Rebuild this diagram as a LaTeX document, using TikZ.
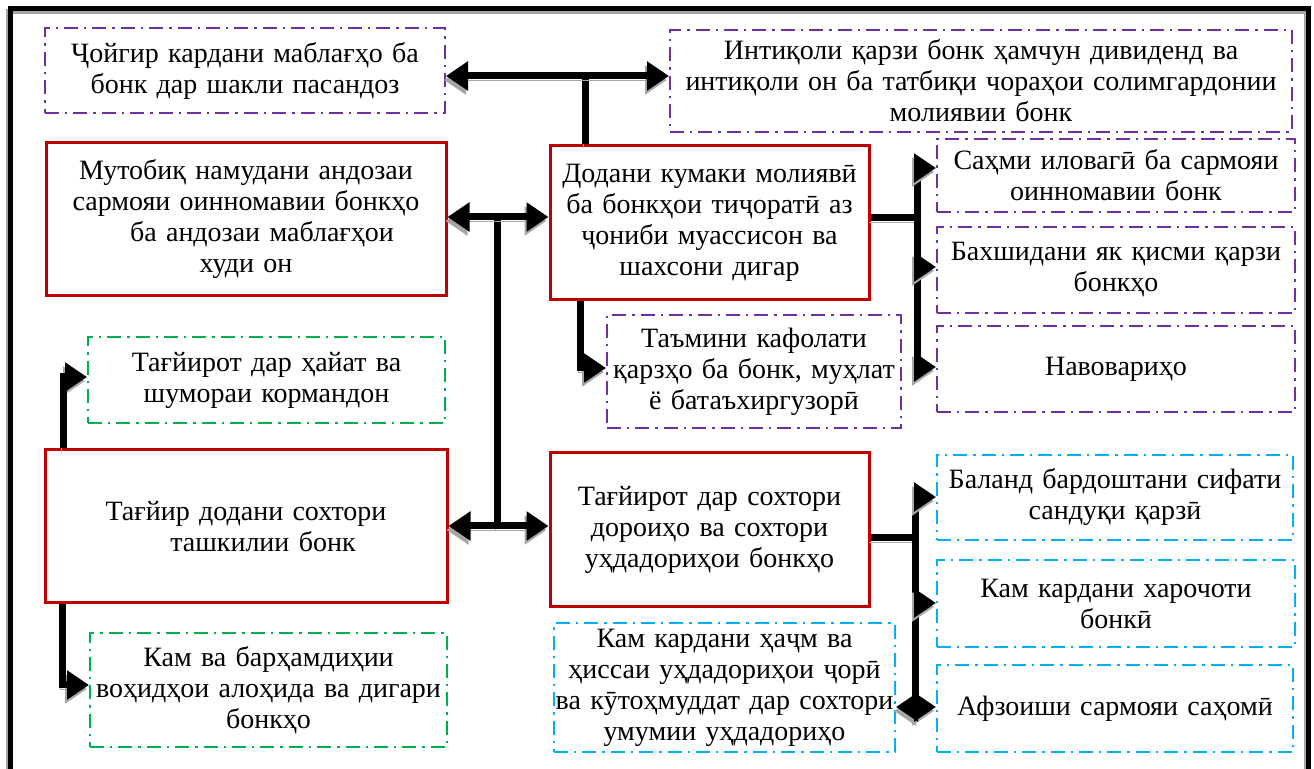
\documentclass[tikz,border=0pt]{standalone}
\usepackage{fontspec}
\setmainfont{Liberation Serif}
\usetikzlibrary{arrows.meta, positioning}

\definecolor{boxred}{HTML}{C00000}
\definecolor{boxviolet}{HTML}{7030A0}
\definecolor{boxgreen}{HTML}{00B050}
\definecolor{boxcyan}{HTML}{00B0F0}

\begin{document}
\begin{tikzpicture}
[x=0.5pt, y=-0.5pt,
  every node/.style={align=center, inner xsep=0pt, inner ysep=0pt,
    font=\fontsize{14}{15.5}\selectfont},
  redbox/.style={draw=boxred, line width=1.5pt},
  dashbox/.style={line width=1pt, dash pattern=on 7pt off 3pt on 1.2pt off 3pt},
  violetbox/.style={dashbox, draw=boxviolet},
  greenbox/.style={dashbox, draw=boxgreen},
  cyanbox/.style={dashbox, draw=boxcyan},
  line/.style={line width=3.5pt,
    preaction={draw=black!35, transform canvas={shift={(-1pt,-2pt)}}}},
  arr/.style={line, -{Triangle[length=11pt,width=14pt]}},
  dbl/.style={line, {Triangle[length=11pt,width=14pt]}-{Triangle[length=11pt,width=14pt]}}]

\clip (0,0) rectangle (1314,769);
\useasboundingbox (0,0) rectangle (1314,769);

% frame
\draw[black!35, line width=2.5pt] (8,790) -- (8,12) -- (1306,12) -- (1306,790);
\draw[line width=2.5pt] (10,790) -- (10,9) -- (1308,9) -- (1308,790);

% top row
\node[violetbox, text width=200pt, minimum height=42.5pt] (jojgir) at (245,70.5)
  {Ҷойгир кардани маблағҳо ба\\ бонк дар шакли пасандоз};
\node[violetbox, text width=311pt, minimum height=51pt] (intiqol) at (981,81)
  {Интиқоли қарзи бонк ҳамчун дивиденд ва\\ интиқоли он ба татбиқи чораҳои солимгардонии\\ молиявии бонк};

% main boxes
\node[redbox, text width=200pt, minimum height=76.5pt] (mutobiq) at (246,219.5)
  {Мутобиқ намудани андозаи\\ сармояи оинномавии бонкҳо\\ \hspace*{16pt}ба андозаи маблағҳои\\ худи он\hspace*{20pt}};
\node[redbox, text width=159.5pt, minimum height=77pt] (dodani) at (709.5,223)
  {Додани кумаки молиявӣ\\ ба бонкҳои тиҷоратӣ аз\\ ҷониби муассисон ва\\ шахсони дигар};
\node[redbox, text width=201pt, minimum height=76.5pt] (tagjir) at (246,526.5)
  {Тағйир додани сохтори\hspace*{20pt}\\ \hspace*{17pt}ташкилии бонк};
\node[redbox, text width=159.5pt, minimum height=77pt] (sokhtor) at (709.5,530)
  {Тағйирот дар сохтори\\ дороиҳо ва сохтори\\ уҳдадориҳои бонкҳо};

% right column
\node[violetbox, text width=179pt, minimum height=36.5pt] (sahmi) at (1116,175.5)
  {Саҳми иловагӣ ба сармояи\\ оинномавии бонк};
\node[violetbox, text width=179pt, minimum height=43pt] (bakhshid) at (1116,270)
  {Бахшидани як қисми қарзи\\ бонкҳо};
\node[violetbox, text width=179pt, minimum height=43pt] (navovari) at (1116,369)
  {Навовариҳо};
\node[cyanbox, text width=178pt, minimum height=42.5pt] (baland) at (1115,497.5)
  {Баланд бардоштани сифати\\ сандуқи қарзӣ};
\node[cyanbox, text width=179pt, minimum height=43.5pt] (kharoj) at (1116,603.5)
  {Кам кардани харочоти\\ бонкӣ};
\node[cyanbox, text width=178pt, minimum height=43.5pt] (afzoish) at (1115,708.5)
  {Афзоиши сармояи саҳомӣ};

% lower boxes
\node[violetbox, text width=147pt, minimum height=56.5pt] (tamini) at (754,371.5)
  {Таъмини кафолати\\ қарзҳо ба бонк, муҳлат\\ ё батаъхиргузорӣ};
\node[cyanbox, text width=170.5pt, minimum height=64.5pt] (kamhajm) at (724.5,687.5)
  {Кам кардани ҳаҷм ва\\ ҳиссаи уҳдадориҳои ҷорӣ\\ ва кӯтоҳмуддат дар сохтори\\ умумии уҳдадориҳо};
\node[greenbox, text width=178.5pt, minimum height=43pt] (tagjirot) at (266.5,380)
  {Тағйирот дар ҳайат ва\\ шумораи кормандон};
\node[greenbox, text width=178.5pt, minimum height=57pt] (kamva) at (268.5,690)
  {Кам ва барҳамдиҳии\\ воҳидҳои алоҳида ва дигари\\ бонкҳо};

% connectors
\coordinate (top) at (585,76);
\draw[line] (top) -- (top |- dodani.north);
\draw[dbl] (top -| jojgir.east) -- (top -| intiqol.west);

\coordinate (mid) at (497,217);
\coordinate (low) at (497,526);
\draw[line] (mid) -- (low);
\draw[dbl] (mid -| mutobiq.east) -- (mid -| dodani.west);
\draw[dbl] (low -| tagjir.east) -- (low -| sokhtor.west);

\coordinate (rup) at (917,160);
\coordinate (rdown) at (917,376);
\draw[line] (dodani.east |- 0,218) -- (917,218);
\draw[line] (rup) -- (rdown);
\draw[arr] (917,168) -- (917,168 -| sahmi.west);
\draw[arr] (917,267) -- (917,267 -| bakhshid.west);
\draw[arr] (917,367) -- (917,367 -| navovari.west);

\draw[arr] (580,0 |- dodani.south) |- (tamini.west |- 0,368);

\draw[arr] (63,0 |- tagjir.north) |- (tagjirot.west |- 0,377);
\draw[arr] (62,0 |- tagjir.south) |- (kamva.west |- 0,685);

\coordinate (bup) at (915,488);
\coordinate (bdown) at (915,713);
\draw[line] (sokhtor.east |- 0,538) -- (915,538);
\draw[line] (bup) -- (bdown);
\draw[arr] (915,497) -- (915,497 -| baland.west);
\draw[arr] (915,603) -- (915,603 -| kharoj.west);
\draw[dbl] (915,707 -| kamhajm.east) -- (915,707 -| afzoish.west);

\end{tikzpicture}
\end{document}
